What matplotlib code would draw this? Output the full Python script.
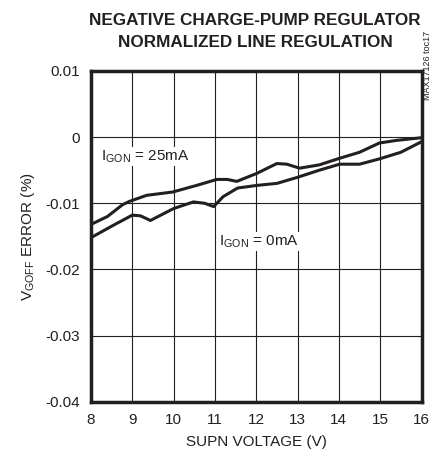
import matplotlib
matplotlib.use('Agg')
import matplotlib.pyplot as plt

plt.rcParams['font.family'] = ['Liberation Sans Narrow', 'Liberation Sans', 'DejaVu Sans']
plt.rcParams['mathtext.fontset'] = 'custom'
plt.rcParams['mathtext.rm'] = 'Liberation Sans'

# IGON = 25mA (upper curve)
x_25 = [8.0, 8.4, 8.77, 8.94, 9.35, 9.98, 10.56, 11.05, 11.3, 11.53, 12.01, 12.5, 12.74,
        13.05, 13.53, 14.02, 14.5, 14.98, 15.4, 16.0]
y_25 = [-0.0132, -0.0120, -0.0102, -0.0097, -0.0088, -0.0083, -0.0073, -0.0064, -0.0064, -0.0067,
        -0.0055, -0.0040, -0.0041, -0.0047, -0.0042, -0.0032, -0.0023, -0.0009, -0.0005, -0.0001]

# IGON = 0mA (lower curve)
x_0 = [8.0, 8.55, 9.0, 9.2, 9.44, 10.0, 10.48, 10.75, 10.97, 11.2, 11.55, 12.02, 12.5, 12.99,
       13.53, 14.02, 14.5, 14.98, 15.5, 15.97]
y_0 = [-0.0152, -0.0133, -0.0118, -0.0119, -0.0126, -0.0108, -0.0098, -0.0100, -0.0105, -0.0090,
       -0.0077, -0.0073, -0.0070, -0.0061, -0.0050, -0.0041, -0.0041, -0.0033, -0.0023, -0.0008]

x_ticks = [8, 9, 10, 11, 12, 13, 14, 15, 16]
y_ticks = [-0.04, -0.03, -0.02, -0.01, 0, 0.01]
y_labels = ['-0.04', '-0.03', '-0.02', '-0.01', '0', '0.01']

fig = plt.figure(figsize=(4.35, 4.63), dpi=100)
ax = fig.add_axes([0.209, 0.132, 0.76, 0.715])

ax.plot(x_25, y_25, color='#231f20', lw=2.2)
ax.plot(x_0, y_0, color='#231f20', lw=2.2)

ax.set_xlim(8, 16)
ax.set_ylim(-0.04, 0.01)
ax.set_xticks(x_ticks)
ax.set_yticks(y_ticks)
ax.set_yticklabels(y_labels)
ax.tick_params(length=0, labelsize=11, pad=8, colors='#231f20')
ax.grid(True, color='#231f20', lw=0.8)
for s in ax.spines.values():
    s.set_linewidth(2.5)
    s.set_color('#231f20')

ax.set_xlabel('SUPN VOLTAGE (V)', fontsize=11, color='#231f20', labelpad=6)
ax.set_ylabel(r'V$_{\mathrm{GOFF}}$ ERROR (%)', fontsize=11, color='#231f20', labelpad=6)

ax.text(8.25, -0.0035, r'I$_{\mathrm{GON}}$ = 25mA', fontsize=11, color='#231f20',
        bbox=dict(facecolor='white', edgecolor='none', pad=1))
ax.text(11.1, -0.0163, r'I$_{\mathrm{GON}}$ = 0mA', fontsize=11, color='#231f20',
        bbox=dict(facecolor='white', edgecolor='none', pad=1))

fig.text(0.586, 0.932, 'NEGATIVE CHARGE-PUMP REGULATOR\nNORMALIZED LINE REGULATION',
         ha='center', va='center', fontsize=12.3, fontweight='bold', color='#231f20',
         linespacing=1.55)
fig.text(0.983, 0.858, 'MAX17126 toc17', rotation=90, ha='center', va='center',
         fontsize=6.5, color='#231f20')

fig.savefig('out.png', dpi=100)
